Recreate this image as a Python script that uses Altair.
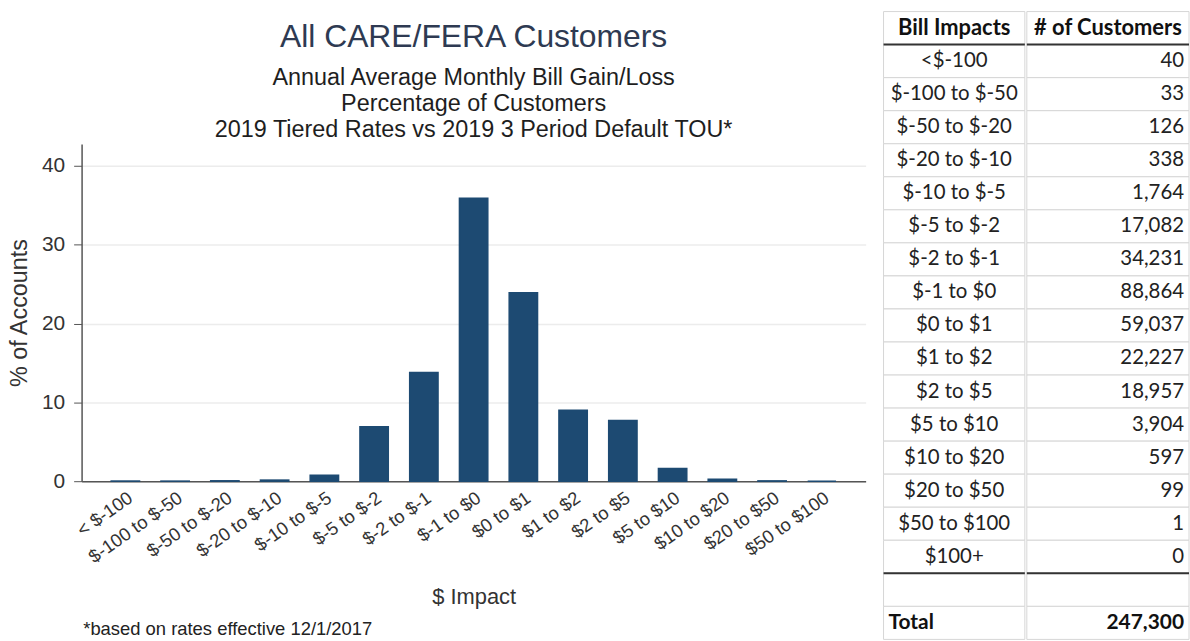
import altair as alt
import pandas as pd

# ---------------- data ----------------
chart_labels = ["< $-100", "$-100 to $-50", "$-50 to $-20", "$-20 to $-10",
                "$-10 to $-5", "$-5 to $-2", "$-2 to $-1", "$-1 to $0",
                "$0 to $1", "$1 to $2", "$2 to $5", "$5 to $10",
                "$10 to $20", "$20 to $50", "$50 to $100"]
pct_accounts = [0.02, 0.01, 0.05, 0.14, 0.75, 6.9, 13.8, 35.9,
                23.9, 9.0, 7.7, 1.6, 0.24, 0.04, 0.0]

table_impacts = ["<$-100", "$-100 to $-50", "$-50 to $-20", "$-20 to $-10",
                 "$-10 to $-5", "$-5 to $-2", "$-2 to $-1", "$-1 to $0",
                 "$0 to $1", "$1 to $2", "$2 to $5", "$5 to $10",
                 "$10 to $20", "$20 to $50", "$50 to $100", "$100+"]
table_customers = [40, 33, 126, 338, 1764, 17082, 34231, 88864,
                   59037, 22227, 18957, 3904, 597, 99, 1, 0]
total_customers = 247300
header_labels = ["Bill Impacts", "# of Customers"]
total_label = "Total"

title_text = "All CARE/FERA Customers"
subtitle_lines = ["Annual Average Monthly Bill Gain/Loss",
                  "Percentage of Customers",
                  "2019 Tiered Rates vs 2019 3 Period Default TOU*"]
footnote = "*based on rates effective 12/1/2017"

# ---------------- styles ----------------
SANS = "Liberation Sans"
TFONT = "Lato"
NAVY = "#1d4a72"
GRAY = "#333333"

bars_df = pd.DataFrame({"impact": chart_labels, "pct": pct_accounts})

bars = alt.Chart(bars_df).mark_bar(color=NAVY, stroke=NAVY, strokeWidth=1.5).encode(
    x=alt.X("impact:N", sort=chart_labels,
            scale=alt.Scale(paddingInner=0.43, paddingOuter=0.595),
            axis=alt.Axis(title="$ Impact", labelAngle=-35, ticks=False,
                          labelFontSize=18.5, labelColor=GRAY, labelFont=SANS,
                          labelPadding=7, domainColor="#555555", domainWidth=1.5,
                          titleFontSize=22, titleFont=SANS, titleFontWeight="normal",
                          titleColor=GRAY, titlePadding=21, labelLimit=300)),
    y=alt.Y("pct:Q", scale=alt.Scale(domain=[0, 42.8], nice=False),
            axis=alt.Axis(title="% of Accounts", values=[0, 10, 20, 30, 40],
                          tickSize=8, tickColor="#555555", labelFontSize=21,
                          labelColor=GRAY, labelFont=SANS, labelPadding=9,
                          domainColor="#555555", domainWidth=1.5,
                          grid=True, gridColor="#ececec", gridWidth=1.5,
                          titleFontSize=23.5, titleFont=SANS, titleFontWeight="normal",
                          titleColor=GRAY, titlePadding=10)),
).properties(
    width=788, height=339,
    title=alt.TitleParams(
        text=title_text, subtitle=subtitle_lines, anchor="middle",
        font=SANS, fontSize=32, fontWeight="normal", color="#2e3a52",
        subtitleFont=SANS, subtitleFontSize=23.5, subtitleColor="#1e1e1e",
        subtitleLineHeight=26.5, subtitlePadding=12, offset=1, limit=900,
    ),
)

left = alt.vconcat(bars, spacing=0).properties(
    title=alt.TitleParams(text=footnote, orient="bottom", anchor="start",
                          font=SANS, fontSize=18.5, fontWeight="normal",
                          color="#222222", dx=76, offset=12)
)

# ---------------- table ----------------
rows_c1 = [header_labels[0]] + table_impacts + ["", total_label]
rows_c2 = [header_labels[1]] + [f"{v:,}" for v in table_customers] + ["", f"{total_customers:,}"]
kinds = ["header"] + ["body"] * len(table_impacts) + ["blank", "total"]
tbl = pd.DataFrame({"row": list(range(len(rows_c1))), "c1": rows_c1,
                    "c2": rows_c2, "kind": kinds})
last_body = len(table_impacts)

# the table starts 133px above the bar chart's plot top, ends at its bottom
TABLE_RANGE = [-133, 498]
yscale = alt.Scale(paddingInner=0, paddingOuter=0, range=TABLE_RANGE)
yenc = alt.Y("row:O", axis=None, scale=yscale)


def table_column(field, key, width, numeric):
    base = alt.Chart(tbl).transform_calculate(col=f"'{key}'")
    xs = alt.Scale(domain=[key], paddingInner=0, paddingOuter=0)
    cells = base.mark_rect(fill="white", stroke="#d6d6d6", strokeWidth=1).encode(
        x=alt.X("col:N", scale=xs, axis=None), y=yenc)
    if numeric:
        body = base.transform_filter("datum.kind == 'body'").mark_text(
            font=TFONT, fontSize=20.5, color="#222222", align="right", dx=-5).encode(
            x=alt.X("col:N", scale=xs, axis=None, bandPosition=1), y=yenc, text=f"{field}:N")
        total = base.transform_filter("datum.kind == 'total'").mark_text(
            font=TFONT, fontSize=21, fontWeight="bold", color="#111111", align="right", dx=-5).encode(
            x=alt.X("col:N", scale=xs, axis=None, bandPosition=1), y=yenc, text=f"{field}:N")
    else:
        body = base.transform_filter("datum.kind == 'body'").mark_text(
            font=TFONT, fontSize=20.5, color="#222222", align="center").encode(
            x=alt.X("col:N", scale=xs, axis=None), y=yenc, text=f"{field}:N")
        total = base.transform_filter("datum.kind == 'total'").mark_text(
            font=TFONT, fontSize=21, fontWeight="bold", color="#111111", align="left", dx=5).encode(
            x=alt.X("col:N", scale=xs, axis=None, bandPosition=0), y=yenc, text=f"{field}:N")
    header = base.transform_filter("datum.kind == 'header'").mark_text(
        font=TFONT, fontSize=22, fontWeight="bold", color="#111111", align="center").encode(
        x=alt.X("col:N", scale=xs, axis=None), y=yenc, text=f"{field}:N")
    rules = base.transform_filter(f"datum.row == 0 || datum.row == {last_body}").mark_rule(
        color="#333333", strokeWidth=2).encode(
        y=alt.Y("row:O", axis=None, bandPosition=1, scale=yscale))
    return alt.layer(cells, rules, body, total, header).properties(width=width, height=498)


col1 = table_column("c1", "impact", 142, False)
col2 = table_column("c2", "count", 163, True)
table = alt.hconcat(col1, col2, spacing=0)

chart = alt.hconcat(left, table, spacing=17).properties(
    padding={"left": 7, "top": 9, "right": 0, "bottom": 0}
).configure(font=SANS).configure_view(stroke=None)

chart.save("out.html", embed_options={"renderer": "svg", "actions": False})
